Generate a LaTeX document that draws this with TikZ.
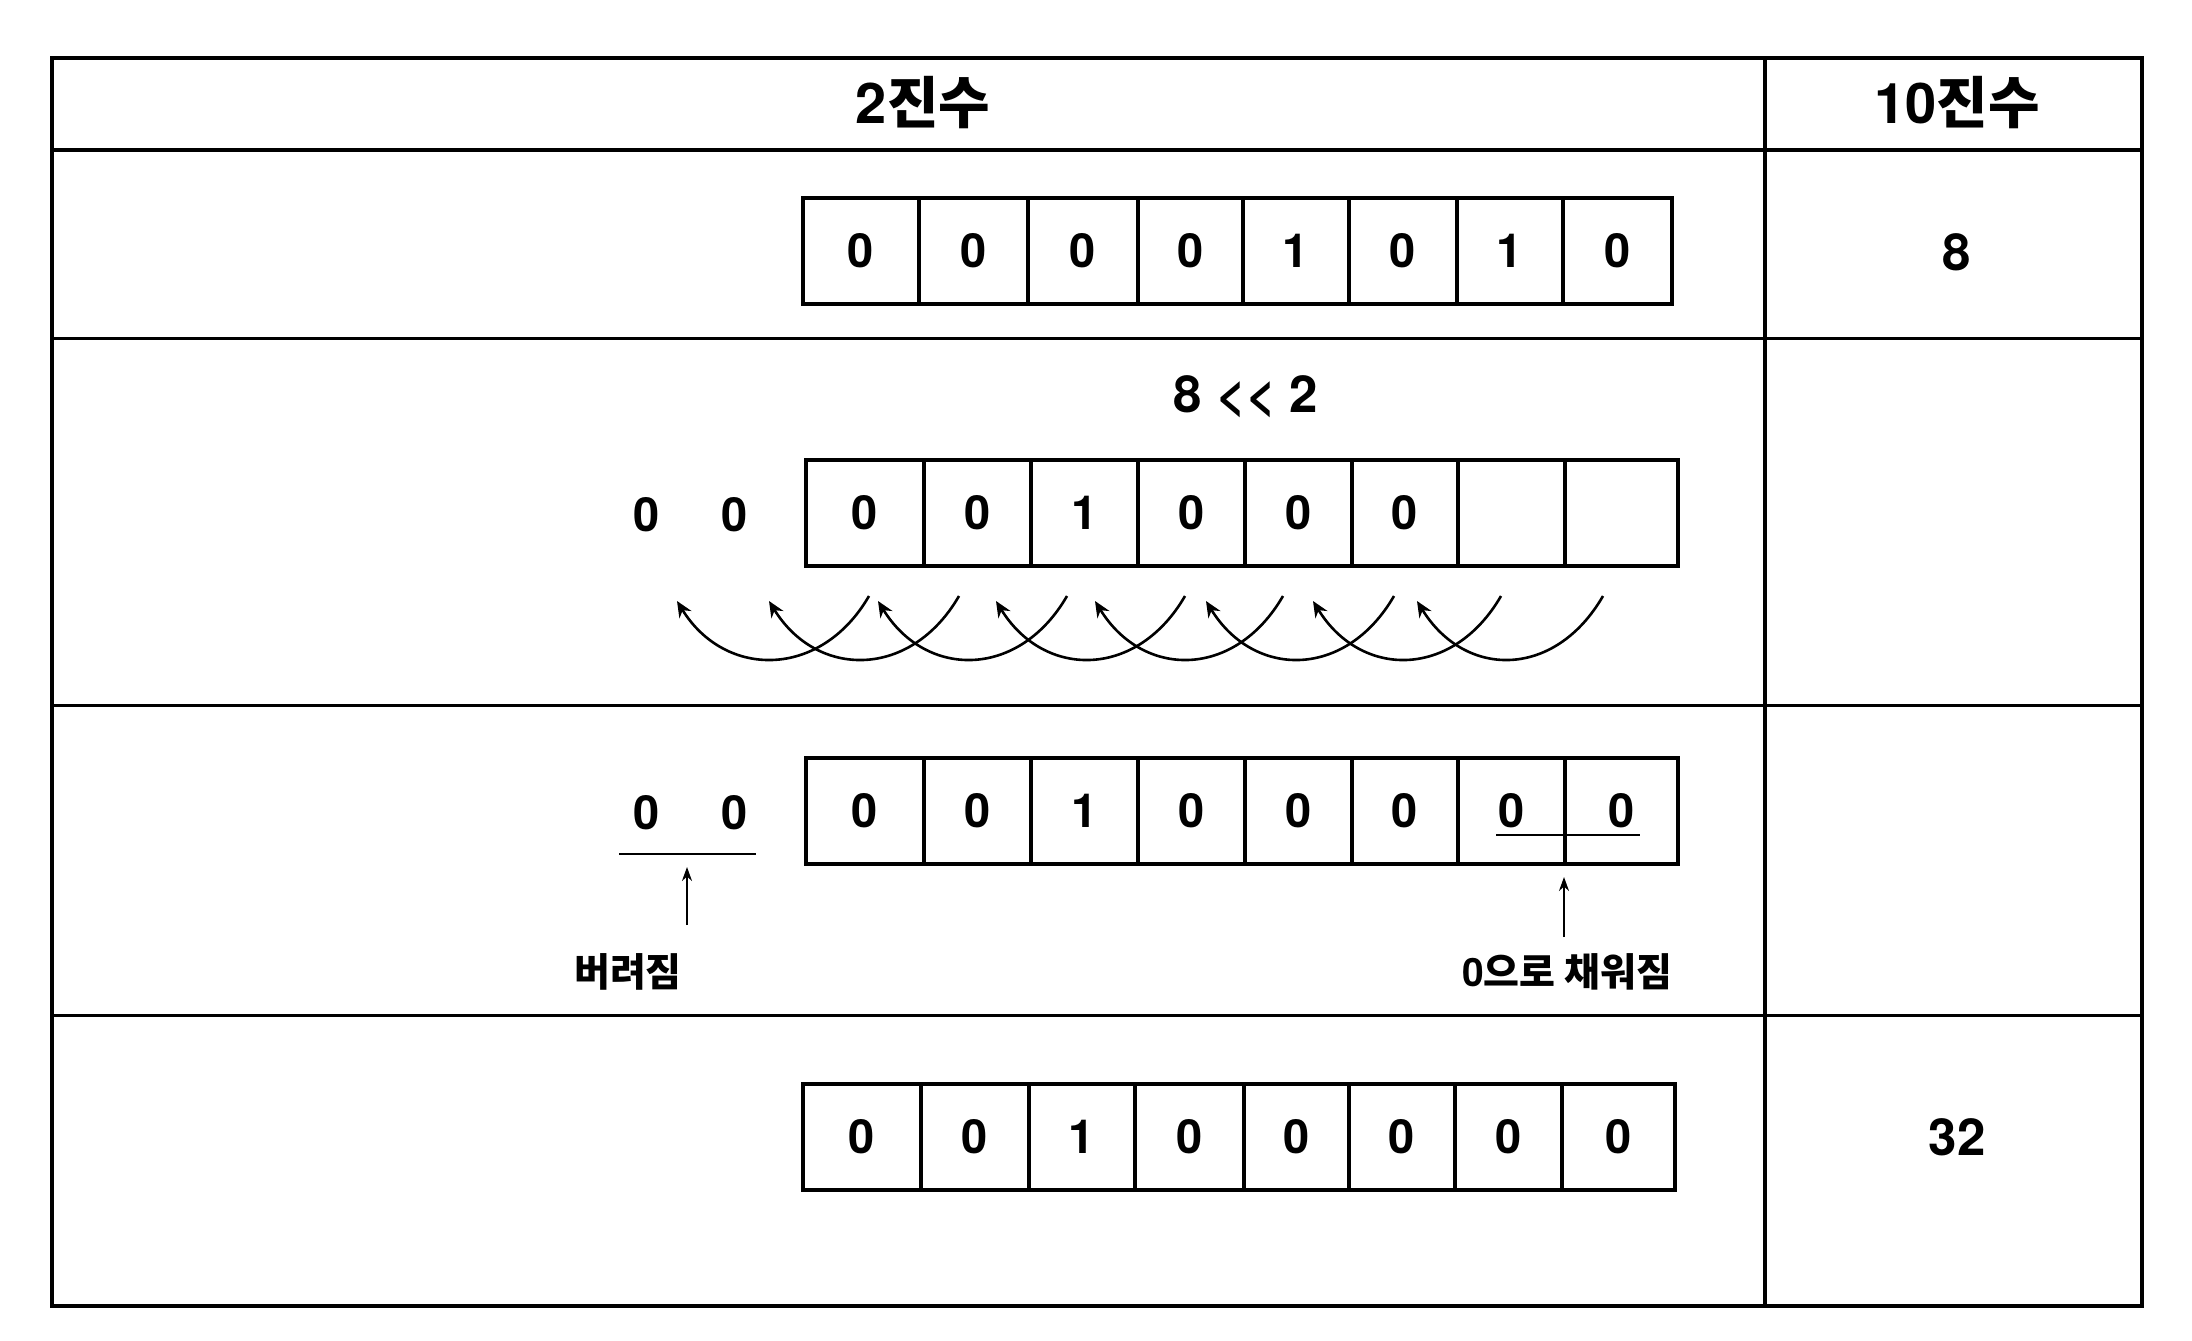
\documentclass[tikz,border=0pt]{standalone}
\usepackage{fontspec}
\setmainfont{TeX Gyre Heros}
\newfontfamily\krb{Noto Sans CJK KR Bold}
\usetikzlibrary{arrows.meta,calc}
\begin{document}
\begin{tikzpicture}[x=0.5pt,y=-0.5pt,
  frame/.style={line width=2pt,line cap=rect},
  rowline/.style={line width=1.5pt},
  cellbox/.style={draw,line width=2pt,minimum height=53pt,inner sep=0pt,
    font=\fontsize{23.5}{28}\selectfont\bfseries},
  digit/.style={inner sep=0pt,font=\fontsize{23.5}{28}\selectfont\bfseries},
  head/.style={inner sep=0pt,font=\fontsize{28}{32}\selectfont\bfseries},
  big/.style={inner sep=0pt,font=\fontsize{25.5}{30}\selectfont\bfseries},
  lbl/.style={inner sep=0pt,font=\fontsize{19.5}{24}\selectfont\bfseries},
  arcarrow/.style={line width=1.3pt,-{Stealth[length=8pt,width=7pt]}},
  uparrow/.style={line width=1pt,-{Stealth[length=7pt,width=5pt]}},
  uline/.style={line width=1.3pt}]
\useasboundingbox (0,0) rectangle (2192,1340);
% table
\draw[frame] (52,58) rectangle (2142,1306);
\draw[frame] (52,150) -- (2142,150);
\draw[frame] (1765,58) -- (1765,1306);
\draw[rowline] (52,338) -- (2142,338);
\draw[rowline] (52,705) -- (2142,705);
\draw[rowline] (52,1015) -- (2142,1015);
% headers
\node[head] (h2) at (923,103) {2{\krb 진수}};
\node[head] (h10) at (1957,103) {10{\krb 진수}};
% row 1
\foreach \l/\r/\v [count=\i] in {803/919/0,919/1028/0,1028/1138/0,1138/1243/0,1243/1349/1,1349/1457/0,1457/1563/1,1563/1672/0}
  \node[cellbox,minimum width={(\r-\l)*0.5pt}] (ra\i) at ({(\l+\r)/2},251) {\v};
\node[big] (d8) at (1957,252) {8};
% row 2
\node[big] (op) at (1246,397) {8 {<}{<} 2};
\foreach \l/\r/\v [count=\i] in {806/924/0,924/1031/0,1031/1138/1,1138/1245/0,1245/1352/0,1352/1458/0,1458/1565/{},1565/1678/{}}
  \node[cellbox,minimum width={(\r-\l)*0.5pt}] (rb\i) at ({(\l+\r)/2},513) {\v};
\node[digit] (ob1) at (647,515) {0};
\node[digit] (ob2) at (735,515) {0};
\foreach \xt/\xh [count=\i] in {869/677,959/769,1067/878,1185/996,1283/1095,1394/1206,1501/1313,1603/1417}{
  \coordinate (t\i) at (\xt,596);
  \coordinate (e\i) at (\xh,601);
  \draw[arcarrow] (t\i) .. controls ($(t\i)+(-48,83)$) and ($(e\i)+(48,78)$) .. (e\i);
}
% row 3
\foreach \l/\r/\v [count=\i] in {806/924/0,924/1031/0,1031/1138/1,1138/1245/0,1245/1352/0,1352/1458/0,1458/1565/0,1565/1678/0}
  \node[cellbox,minimum width={(\r-\l)*0.5pt}] (rc\i) at ({(\l+\r)/2},811) {\v};
\node[digit] (oc1) at (647,813) {0};
\node[digit] (oc2) at (735,813) {0};
\draw[uline] (619,854) -- (756,854);
\draw[uline] (1496,835) -- (1640,835);
\node[lbl] (lost) at (628,972) {\krb 버려짐};
\node[lbl] (fill) at (1567,972) {0{\krb 으로 채워짐}};
\coordinate (la) at (687,925);
\coordinate (lb) at (687,867);
\coordinate (fa) at (1564,937);
\coordinate (fb) at (1564,877);
\draw[uparrow] (la) -- (lb);
\draw[uparrow] (fa) -- (fb);
% row 4
\foreach \l/\r/\v [count=\i] in {803/921/0,921/1029/0,1029/1135/1,1135/1244/0,1244/1349/0,1349/1455/0,1455/1562/0,1562/1675/0}
  \node[cellbox,minimum width={(\r-\l)*0.5pt}] (rd\i) at ({(\l+\r)/2},1136.5) {\v};
\node[big] (d32) at (1957,1137) {32};
\end{tikzpicture}
\end{document}
